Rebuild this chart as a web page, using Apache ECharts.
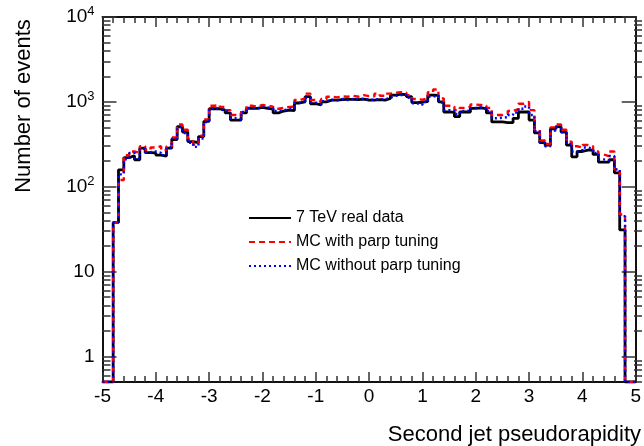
<!DOCTYPE html>
<html>
<head>
<meta charset="utf-8">
<script src="https://cdn.jsdelivr.net/npm/echarts@6/dist/echarts.min.js"></script>
<style>
html,body{margin:0;padding:0;background:#fff;}
#chart{width:644px;height:446px;}
</style>
</head>
<body>
<div id="chart"></div>
<script>
// Histogram binning (eta), 0.1 wide bins from -4.8 to 4.8
const binFirstEdge = -4.8;
const binWidth = 0.1;
const yTickLabels = ['1', '10', '10{s|2}', '10{s|3}', '10{s|4}'];
const xTickLabels = ['-5','-4','-3','-2','-1','0','1','2','3','4','5'];
const seriesNames = ['7 TeV real data', 'MC with parp tuning', 'MC without parp tuning'];

const dataReal = [
  38, 158, 220, 232, 208, 285, 252, 250, 236, 230,
  285, 360, 510, 440, 340, 330, 390, 590, 830, 830,
  800, 740, 610, 610, 740, 840, 840, 860, 840, 820,
  740, 780, 800, 790, 970, 1000, 1150, 950, 920, 1000,
  1050, 1050, 1060, 1070, 1070, 1060, 1080, 1050, 1050, 1060,
  1050, 1100, 1200, 1230, 1220, 1150, 980, 990, 1010, 1200,
  1190, 1000, 760, 750, 670, 760, 760, 840, 850, 830,
  740, 580, 580, 570, 570, 640, 760, 760, 610, 430,
  330, 310, 480, 510, 440, 310, 225, 260, 270, 270,
  240, 195, 195, 208, 146, 31
];
const dataMcTuned = [
  38, 120, 235, 260, 250, 300, 270, 290, 300, 270,
  300, 380, 540, 470, 360, 315, 400, 620, 900, 920,
  870, 800, 700, 680, 790, 900, 880, 920, 900, 880,
  830, 850, 870, 880, 1050, 1100, 1250, 1050, 1000, 1080,
  1150, 1130, 1160, 1150, 1180, 1150, 1200, 1170, 1160, 1250,
  1180, 1250, 1280, 1300, 1280, 1200, 1080, 1060, 1100, 1300,
  1400, 1100, 900, 880, 800, 850, 880, 930, 920, 900,
  850, 700, 700, 720, 780, 820, 950, 1000, 800, 470,
  350, 320, 500, 540, 470, 340, 300, 290, 310, 300,
  260, 240, 230, 260, 160, 47
];
const dataMcUntuned = [
  38, 140, 210, 250, 215, 280, 255, 260, 250, 235,
  290, 370, 500, 430, 330, 295, 370, 580, 840, 820,
  790, 760, 640, 620, 760, 850, 830, 870, 860, 840,
  780, 800, 820, 840, 980, 1020, 1120, 980, 940, 1020,
  1060, 1040, 1080, 1050, 1080, 1070, 1090, 1060, 1060, 1080,
  1070, 1120, 1180, 1200, 1210, 1120, 960, 920, 1000, 1150,
  1200, 980, 800, 780, 720, 780, 790, 850, 860, 830,
  780, 640, 650, 660, 700, 750, 830, 880, 700, 450,
  330, 300, 460, 500, 440, 320, 260, 270, 290, 280,
  250, 210, 205, 230, 160, 45
];

const Y_MIN_RAW = 0.5, Y_MAX_RAW = 10000;
const lg = v => Math.log10(v);

function stepData(vals) {
  const low = lg(Y_MIN_RAW);
  const pts = [[-5, low]];
  for (let i = 0; i < vals.length; i++) {
    const edge = +(binFirstEdge + i * binWidth).toFixed(2);
    pts.push([edge, lg(vals[i])]);
  }
  const lastEdge = +(binFirstEdge + vals.length * binWidth).toFixed(2);
  pts.push([lastEdge, low]);
  pts.push([5, low]);
  return pts;
}

const majorY = [0, 1, 2, 3, 4];
const minorY = [];
[0.1, 1, 10, 100, 1000].forEach(d => {
  for (let k = 2; k <= 9; k++) {
    const v = k * d;
    if (v >= Y_MIN_RAW && v < Y_MAX_RAW) minorY.push(lg(v));
  }
});

const FONT = 'Liberation Sans, Arial, Helvetica, sans-serif';
const gridBox = {left: 102.5, top: 17, right: 2, bottom: 64};
const frameLine = {show: true, onZero: false, lineStyle: {color: '#111', width: 2}};
const tickStyle = {color: '#333', width: 1.5};

const chart = echarts.init(document.getElementById('chart'), null, {renderer: 'canvas'});
chart.setOption({
  backgroundColor: '#fff',
  animation: false,
  grid: [Object.assign({}, gridBox), Object.assign({}, gridBox)],
  xAxis: [
    {
      type: 'value', gridIndex: 0, position: 'bottom', min: -5, max: 5, interval: 1,
      axisLine: frameLine,
      axisTick: {show: true, inside: true, length: 10, lineStyle: tickStyle},
      minorTick: {show: true, splitNumber: 5, length: 6, lineStyle: tickStyle},
      splitLine: {show: false}, minorSplitLine: {show: false},
      axisLabel: {
        show: true, margin: 5, color: '#000', fontSize: 19, fontFamily: FONT,
        formatter: v => xTickLabels[Math.round(v) + 5]
      }
    },
    {
      type: 'value', gridIndex: 0, position: 'top', min: -5, max: 5, interval: 1,
      axisLine: frameLine,
      axisTick: {show: true, inside: true, length: 10, lineStyle: tickStyle},
      minorTick: {show: true, splitNumber: 5, length: 6, lineStyle: tickStyle},
      splitLine: {show: false}, axisLabel: {show: false}
    },
    {type: 'value', gridIndex: 1, min: -5, max: 5, show: false}
  ],
  yAxis: [
    {
      type: 'value', gridIndex: 0, position: 'left', min: lg(Y_MIN_RAW), max: lg(Y_MAX_RAW),
      axisLine: frameLine,
      axisTick: {show: true, inside: true, length: 14, customValues: majorY, lineStyle: tickStyle},
      splitLine: {show: false},
      axisLabel: {
        show: true, margin: 8, color: '#000', fontFamily: FONT, fontSize: 19,
        customValues: majorY,
        formatter: v => yTickLabels[Math.round(v)],
        rich: {
          s: {fontSize: 13, fontFamily: FONT, color: '#000', padding: [0, 0, 11, 0]}
        }
      }
    },
    {
      type: 'value', gridIndex: 0, position: 'right', min: lg(Y_MIN_RAW), max: lg(Y_MAX_RAW),
      axisLine: frameLine,
      axisTick: {show: true, inside: true, length: 14, customValues: majorY, lineStyle: tickStyle},
      splitLine: {show: false}, axisLabel: {show: false}
    },
    {
      type: 'value', gridIndex: 1, position: 'left', min: lg(Y_MIN_RAW), max: lg(Y_MAX_RAW),
      axisLine: {show: false, onZero: false},
      axisTick: {show: true, inside: true, length: 8, customValues: minorY, lineStyle: tickStyle},
      splitLine: {show: false}, axisLabel: {show: false}
    },
    {
      type: 'value', gridIndex: 1, position: 'right', min: lg(Y_MIN_RAW), max: lg(Y_MAX_RAW),
      axisLine: {show: false, onZero: false},
      axisTick: {show: true, inside: true, length: 8, customValues: minorY, lineStyle: tickStyle},
      splitLine: {show: false}, axisLabel: {show: false}
    }
  ],
  legend: {
    orient: 'vertical', left: 248, top: 210, padding: 0,
    itemWidth: 42, itemHeight: 14, itemGap: 8,
    itemStyle: {opacity: 0},
    textStyle: {fontSize: 16, fontFamily: FONT, color: '#000'},
    data: seriesNames
  },
  series: [
    {
      name: seriesNames[0], type: 'line', step: 'end', xAxisIndex: 0, yAxisIndex: 0,
      symbol: 'none', data: stepData(dataReal), z: 3,
      lineStyle: {color: '#000', width: 2.8, type: 'solid'},
      itemStyle: {color: '#000'}
    },
    {
      name: seriesNames[1], type: 'line', step: 'end', xAxisIndex: 0, yAxisIndex: 0,
      symbol: 'none', data: stepData(dataMcTuned), z: 4,
      lineStyle: {color: '#ff0000', width: 2.4, type: [6, 4]},
      itemStyle: {color: '#ff0000'}
    },
    {
      name: seriesNames[2], type: 'line', step: 'end', xAxisIndex: 0, yAxisIndex: 0,
      symbol: 'none', data: stepData(dataMcUntuned), z: 5,
      lineStyle: {color: '#0000ff', width: 2.4, type: [2, 3]},
      itemStyle: {color: '#0000ff'}
    }
  ],
  graphic: [
    {
      type: 'text', x: 24, y: 106, rotation: Math.PI / 2,
      style: {text: 'Number of events', fontSize: 22, fontFamily: FONT, fill: '#000',
              align: 'center', verticalAlign: 'middle', textAlign: 'center', textVerticalAlign: 'middle'}
    },
    {
      type: 'text', x: 641, y: 435,
      style: {text: 'Second jet pseudorapidity', fontSize: 22, fontFamily: FONT, fill: '#000',
              align: 'right', verticalAlign: 'middle', textAlign: 'right', textVerticalAlign: 'middle'}
    }
  ]
});
</script>
</body>
</html>
